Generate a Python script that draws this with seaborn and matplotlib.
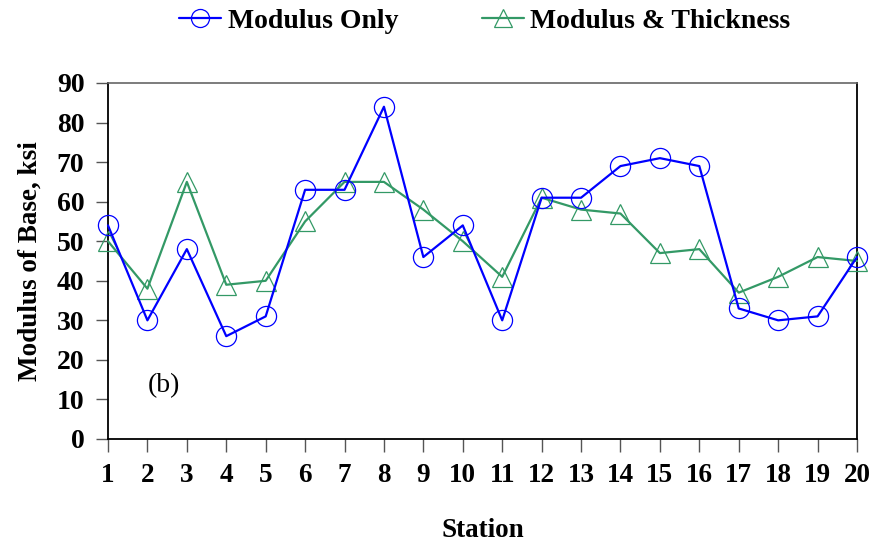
import matplotlib
matplotlib.use("Agg")
import matplotlib.pyplot as plt
import seaborn as sns
import pandas as pd

stations = list(range(1, 21))
modulus_only = [54, 30, 48, 26, 31, 63, 63, 84, 46, 54, 30, 61, 61, 69, 71, 69, 33, 30, 31, 46]
modulus_thickness = [50, 38, 65, 39, 40, 55, 65, 65, 58, 50, 41, 61, 58, 57, 47, 48, 37, 41, 46, 45]
series_names = ["Modulus Only", "Modulus & Thickness"]
yticks = list(range(0, 100, 10))

sns.set_theme(style="ticks")
plt.rcParams['font.family'] = ['Liberation Serif', 'DejaVu Serif']
plt.rcParams['text.color'] = 'black'
plt.rcParams['axes.labelcolor'] = 'black'
plt.rcParams['xtick.labelcolor'] = 'black'
plt.rcParams['ytick.labelcolor'] = 'black'

fig = plt.figure(figsize=(8.77, 5.52), dpi=100)
ax = fig.add_axes([108/877, 1-439/552, (857-108)/877, (439-83)/552])

df1 = pd.DataFrame({"Station": stations, "Value": modulus_only})
df2 = pd.DataFrame({"Station": stations, "Value": modulus_thickness})

sns.lineplot(data=df1, x="Station", y="Value", ax=ax, color="#0000FF", lw=1.6,
             marker="o", markersize=14.5, markerfacecolor="none",
             markeredgecolor="#0000FF", markeredgewidth=0.9, clip_on=False,
             label=series_names[0], zorder=4, legend=False)
sns.lineplot(data=df2, x="Station", y="Value", ax=ax, color="#339966", lw=1.6,
             marker="^", markersize=15, markerfacecolor="none",
             markeredgecolor="#339966", markeredgewidth=0.9, clip_on=False,
             label=series_names[1], zorder=3, legend=False)

ax.set_xlim(1, 20)
ax.set_ylim(0, 90)
ax.set_xticks(stations)
ax.set_yticks(yticks)
ax.tick_params(axis="both", which="major", direction="out", length=9, width=1,
               color="#555555", labelcolor="black")
ax.tick_params(axis="x", pad=8, labelsize=19.5)
ax.tick_params(axis="y", pad=8, labelsize=20)
for lab in ax.get_xticklabels() + ax.get_yticklabels():
    lab.set_fontweight("bold")

ax.set_xlabel("Station", fontsize=19.5, fontweight="bold", labelpad=22, color="black")
ax.set_ylabel("Modulus of Base, ksi", fontsize=19.5, fontweight="bold", labelpad=10, color="black")

for side in ["left", "bottom", "right"]:
    ax.spines[side].set_visible(True)
    ax.spines[side].set_color("black")
    ax.spines[side].set_linewidth(1.3)
ax.spines["top"].set_visible(True)
ax.spines["top"].set_color("#666666")
ax.spines["top"].set_linewidth(1.2)

ax.text(2, 13.6, "(b)", fontsize=20, va="center", ha="left", color="black")

handles = ax.get_lines()[:2]
leg = fig.legend(handles, series_names, loc="center", bbox_to_anchor=(485/877, 1-21/552),
                 ncol=2, frameon=False, handlelength=1.5,
                 handletextpad=0.25, columnspacing=3.0,
                 prop={"weight": "bold", "size": 20})
for lh in leg.get_lines():
    lh.set_markersize(13)
for t in leg.get_texts():
    t.set_color("black")

fig.savefig("out.png", dpi=100)
